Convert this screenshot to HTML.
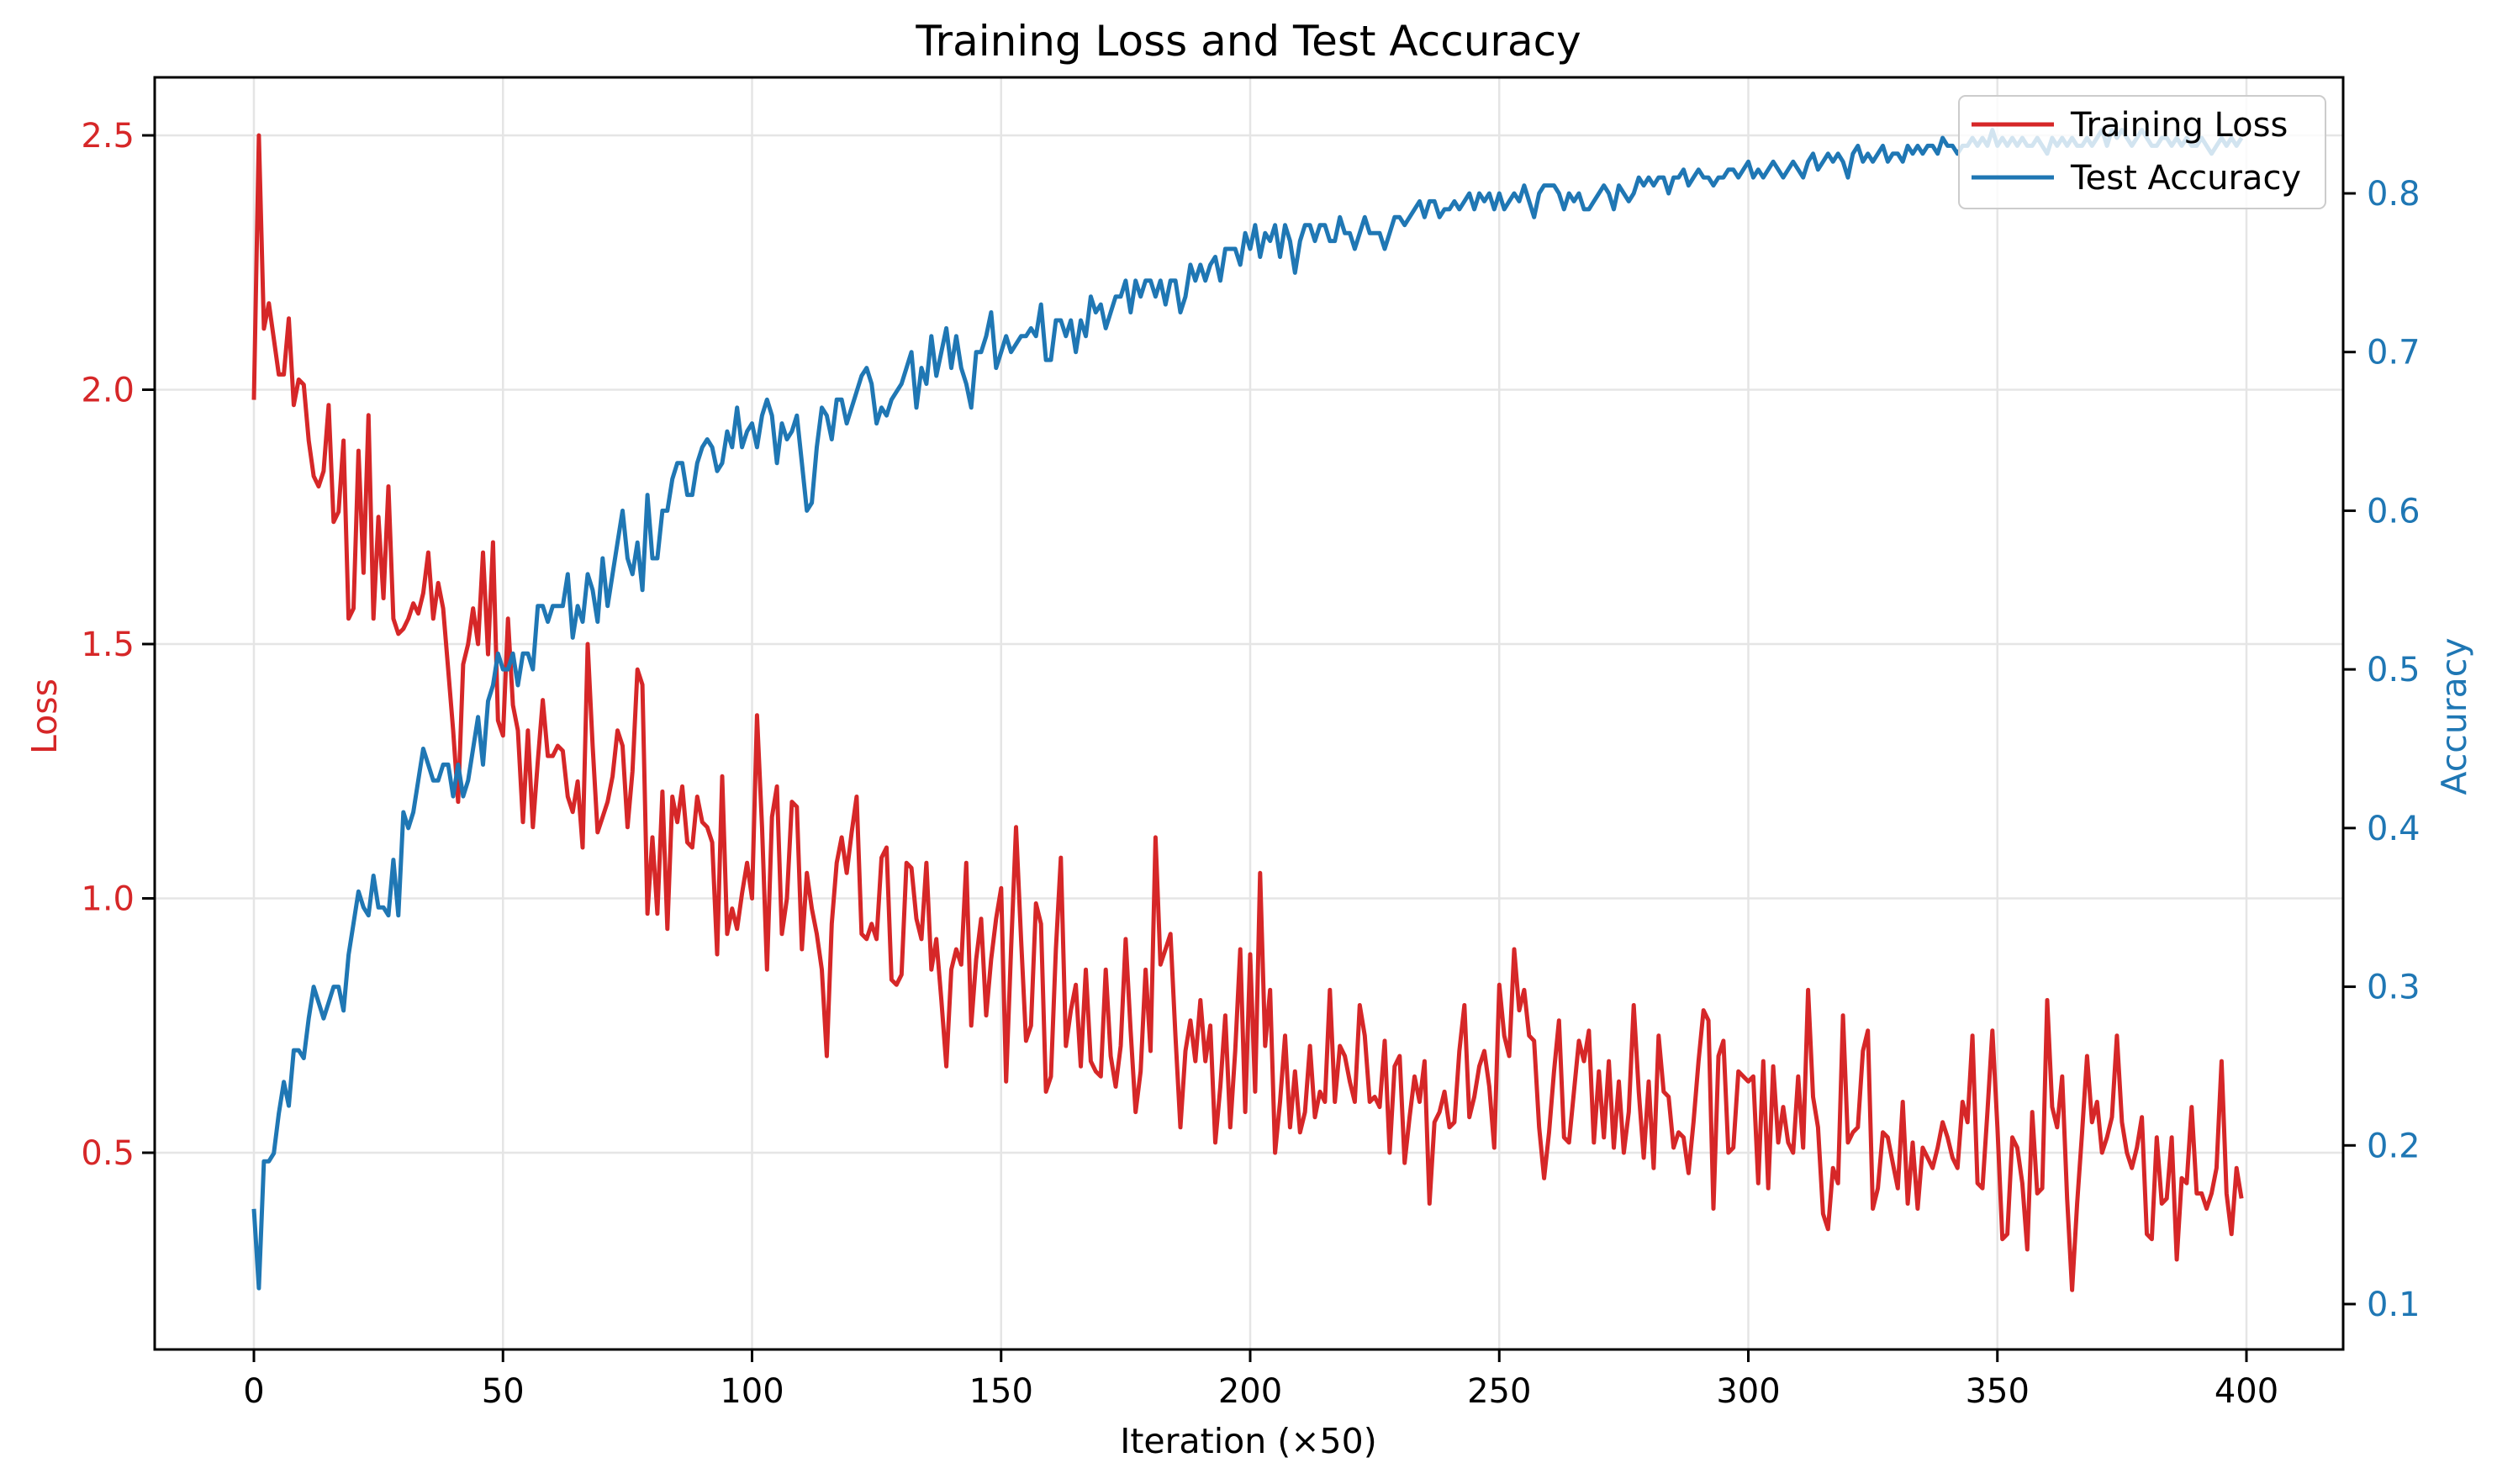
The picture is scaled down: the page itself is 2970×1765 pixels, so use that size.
<!DOCTYPE html>
<html><head><meta charset="utf-8"><style>
html,body{margin:0;padding:0;background:#fff}
svg{display:block;font-family:"DejaVu Sans","Liberation Sans",sans-serif}
</style></head><body>
<svg id="chart" width="2970" height="1765" viewBox="0 0 2970 1765">
<rect x="0" y="0" width="2970" height="1765" fill="#fff"/>
<g id="grid"></g><g id="series"></g><g id="axes"></g>
<text x="1485" y="66" text-anchor="middle" font-size="50" fill="#000">Training Loss and Test Accuracy</text>
<text x="1485" y="1728" text-anchor="middle" font-size="41" fill="#000">Iteration (×50)</text>
<text x="0" y="0" transform="translate(67,852) rotate(-90)" text-anchor="middle" font-size="41" fill="#d62728">Loss</text>
<text x="0" y="0" transform="translate(2933,852) rotate(-90)" text-anchor="middle" font-size="41" fill="#1f77b4">Accuracy</text>
<g>
<rect x="2330" y="114" width="436" height="134" rx="8" fill="#fff" fill-opacity="0.8" stroke="#ccc" stroke-width="2"/>
<line x1="2345" y1="148" x2="2443" y2="148" stroke="#d62728" stroke-width="5"/>
<text x="2463" y="162" font-size="40">Training Loss</text>
<line x1="2345" y1="211" x2="2443" y2="211" stroke="#1f77b4" stroke-width="5"/>
<text x="2463" y="225" font-size="40">Test Accuracy</text>
</g>
</svg>
<script>
const xTicks=[0,50,100,150,200,250,300,350,400];
const lossTicks=[0.5,1.0,1.5,2.0,2.5];
const accTicks=[0.1,0.2,0.3,0.4,0.5,0.6,0.7,0.8];
const lossValues=[1.98,2.50,2.12,2.17,2.10,2.03,2.03,2.14,1.97,2.02,
2.01,1.90,1.83,1.81,1.84,1.97,1.74,1.76,1.90,1.55,
1.57,1.88,1.64,1.95,1.55,1.75,1.59,1.81,1.55,1.52,
1.53,1.55,1.58,1.56,1.60,1.68,1.55,1.62,1.57,1.45,
1.33,1.19,1.46,1.50,1.57,1.50,1.68,1.48,1.70,1.35,
1.32,1.55,1.38,1.33,1.15,1.33,1.14,1.27,1.39,1.28,
1.28,1.30,1.29,1.20,1.17,1.23,1.10,1.50,1.30,1.13,
1.16,1.19,1.24,1.33,1.30,1.14,1.25,1.45,1.42,0.97,
1.12,0.97,1.21,0.94,1.20,1.15,1.22,1.11,1.10,1.20,
1.15,1.14,1.11,0.89,1.24,0.93,0.98,0.94,1.01,1.07,
1.00,1.36,1.14,0.86,1.16,1.22,0.93,1.00,1.19,1.18,
0.90,1.05,0.98,0.93,0.86,0.69,0.95,1.07,1.12,1.05,
1.13,1.20,0.93,0.92,0.95,0.92,1.08,1.10,0.84,0.83,
0.85,1.07,1.06,0.96,0.92,1.07,0.86,0.92,0.80,0.67,
0.86,0.90,0.87,1.07,0.75,0.88,0.96,0.77,0.88,0.96,
1.02,0.64,0.90,1.14,0.92,0.72,0.75,0.99,0.95,0.62,
0.65,0.90,1.08,0.71,0.78,0.83,0.67,0.86,0.68,0.66,
0.65,0.86,0.69,0.63,0.71,0.92,0.74,0.58,0.66,0.86,
0.70,1.12,0.87,0.90,0.93,0.73,0.55,0.70,0.76,0.68,
0.80,0.68,0.75,0.52,0.63,0.77,0.55,0.70,0.90,0.58,
0.89,0.62,1.05,0.71,0.82,0.50,0.60,0.73,0.55,0.66,
0.54,0.58,0.71,0.57,0.62,0.60,0.82,0.60,0.71,0.69,
0.64,0.60,0.79,0.73,0.60,0.61,0.59,0.72,0.50,0.67,
0.69,0.48,0.57,0.65,0.60,0.68,0.40,0.56,0.58,0.62,
0.55,0.56,0.70,0.79,0.57,0.61,0.67,0.70,0.63,0.51,
0.83,0.73,0.69,0.90,0.78,0.82,0.73,0.72,0.55,0.45,
0.54,0.66,0.76,0.53,0.52,0.62,0.72,0.68,0.74,0.52,
0.66,0.53,0.68,0.51,0.64,0.50,0.58,0.79,0.62,0.49,
0.64,0.47,0.73,0.62,0.61,0.51,0.54,0.53,0.46,0.56,
0.68,0.78,0.76,0.39,0.69,0.72,0.50,0.51,0.66,0.65,
0.64,0.65,0.44,0.68,0.43,0.67,0.52,0.59,0.52,0.50,
0.65,0.51,0.82,0.61,0.55,0.38,0.35,0.47,0.44,0.77,
0.52,0.54,0.55,0.70,0.74,0.39,0.43,0.54,0.53,0.48,
0.43,0.60,0.40,0.52,0.39,0.51,0.49,0.47,0.51,0.56,
0.53,0.49,0.47,0.60,0.56,0.73,0.44,0.43,0.58,0.74,
0.55,0.33,0.34,0.53,0.51,0.44,0.31,0.58,0.42,0.43,
0.80,0.59,0.55,0.65,0.41,0.23,0.40,0.54,0.69,0.56,
0.60,0.50,0.53,0.57,0.73,0.56,0.50,0.47,0.51,0.57,
0.34,0.33,0.53,0.40,0.41,0.53,0.29,0.45,0.44,0.59,
0.42,0.42,0.39,0.42,0.47,0.68,0.42,0.34,0.47,0.41];
const accValues=[0.16,0.11,0.19,0.19,0.195,0.22,0.24,0.225,0.26,0.26,
0.255,0.28,0.30,0.29,0.28,0.29,0.30,0.30,0.285,0.32,
0.34,0.36,0.35,0.345,0.37,0.35,0.35,0.345,0.38,0.345,
0.41,0.40,0.41,0.43,0.45,0.44,0.43,0.43,0.44,0.44,
0.42,0.44,0.42,0.43,0.45,0.47,0.44,0.48,0.49,0.51,
0.50,0.50,0.51,0.49,0.51,0.51,0.50,0.54,0.54,0.53,
0.54,0.54,0.54,0.56,0.52,0.54,0.53,0.56,0.55,0.53,
0.57,0.54,0.56,0.58,0.60,0.57,0.56,0.58,0.55,0.61,
0.57,0.57,0.60,0.60,0.62,0.63,0.63,0.61,0.61,0.63,
0.64,0.645,0.64,0.625,0.63,0.65,0.64,0.665,0.64,0.65,
0.655,0.64,0.66,0.67,0.66,0.63,0.655,0.645,0.65,0.66,
0.63,0.60,0.605,0.64,0.665,0.66,0.645,0.67,0.67,0.655,
0.665,0.675,0.685,0.69,0.68,0.655,0.665,0.66,0.67,0.675,
0.68,0.69,0.70,0.665,0.69,0.68,0.71,0.685,0.70,0.715,
0.69,0.71,0.69,0.68,0.665,0.70,0.70,0.71,0.725,0.69,
0.70,0.71,0.70,0.705,0.71,0.71,0.715,0.71,0.73,0.695,
0.695,0.72,0.72,0.71,0.72,0.70,0.72,0.71,0.735,0.725,
0.73,0.715,0.725,0.735,0.735,0.745,0.725,0.745,0.735,0.745,
0.745,0.735,0.745,0.73,0.745,0.745,0.725,0.735,0.755,0.745,
0.755,0.745,0.755,0.76,0.745,0.765,0.765,0.765,0.755,0.775,
0.765,0.78,0.76,0.775,0.77,0.78,0.76,0.78,0.77,0.75,
0.77,0.78,0.78,0.77,0.78,0.78,0.77,0.77,0.785,0.775,
0.775,0.765,0.775,0.785,0.775,0.775,0.775,0.765,0.775,0.785,
0.785,0.78,0.785,0.79,0.795,0.785,0.795,0.795,0.785,0.79,
0.79,0.795,0.79,0.795,0.80,0.79,0.80,0.795,0.80,0.79,
0.80,0.79,0.795,0.80,0.795,0.805,0.795,0.785,0.80,0.805,
0.805,0.805,0.80,0.79,0.80,0.795,0.80,0.79,0.79,0.795,
0.80,0.805,0.80,0.79,0.805,0.80,0.795,0.80,0.81,0.805,
0.81,0.805,0.81,0.81,0.80,0.81,0.81,0.815,0.805,0.81,
0.815,0.81,0.81,0.805,0.81,0.81,0.815,0.815,0.81,0.815,
0.82,0.81,0.815,0.81,0.815,0.82,0.815,0.81,0.815,0.82,
0.815,0.81,0.82,0.825,0.815,0.82,0.825,0.82,0.825,0.82,
0.81,0.825,0.83,0.82,0.825,0.82,0.825,0.83,0.82,0.825,
0.825,0.82,0.83,0.825,0.83,0.825,0.83,0.83,0.825,0.835,
0.83,0.83,0.825,0.83,0.83,0.835,0.83,0.835,0.83,0.84,
0.83,0.835,0.83,0.835,0.83,0.835,0.83,0.83,0.835,0.83,
0.825,0.835,0.83,0.835,0.83,0.835,0.83,0.83,0.835,0.83,
0.835,0.84,0.83,0.84,0.835,0.84,0.835,0.83,0.835,0.84,
0.835,0.83,0.83,0.835,0.835,0.83,0.835,0.83,0.835,0.83,
0.83,0.835,0.83,0.825,0.83,0.835,0.83,0.835,0.83,0.835];

const L=184,R=2787,T=92,B=1605;
const xs=v=>302+(v-0)*(2672-302)/400;
const yl=v=>161+(2.5-v)*(1371-161)/2.0;
const ya=v=>1551-(v-0.1)*(1551-230)/0.7;
const NS='http://www.w3.org/2000/svg';
function mk(tag,attrs,parent){const e=document.createElementNS(NS,tag);for(const k in attrs)e.setAttribute(k,attrs[k]);parent.appendChild(e);return e;}
const grid=document.getElementById('grid'),axes=document.getElementById('axes'),series=document.getElementById('series');

xTicks.forEach(t=>{
  const g=mk('line',{x1:xs(t),x2:xs(t),y1:T,y2:B,stroke:'#e5e5e5','stroke-width':2.5},grid);
  
  
  const tk=mk('line',{x1:xs(t),x2:xs(t),y1:B,y2:B+15,stroke:'#000','stroke-width':3},axes);
  
  
  const tx=mk('text',{x:xs(t),y:B+63,'text-anchor':'middle','font-size':40,fill:'#000'},axes);
  tx.textContent=t;
  
  
});
lossTicks.forEach(t=>{
  const g=mk('line',{x1:L,x2:R,y1:yl(t),y2:yl(t),stroke:'#e5e5e5','stroke-width':2.5},grid);
  
  
  const tk=mk('line',{x1:L-15,x2:L,y1:yl(t),y2:yl(t),stroke:'#000','stroke-width':3},axes);
  
  
  const tx=mk('text',{x:L-24,y:yl(t)+14,'text-anchor':'end','font-size':40,fill:'#d62728'},axes);
  tx.textContent=t.toFixed(1);
  
  
});
accTicks.forEach(t=>{
  const tk=mk('line',{x1:R,x2:R+15,y1:ya(t),y2:ya(t),stroke:'#000','stroke-width':3},axes);
  
  
  const tx=mk('text',{x:R+28,y:ya(t)+14,'text-anchor':'start','font-size':40,fill:'#1f77b4'},axes);
  tx.textContent=t.toFixed(1);
  
  
});
const fr=mk('rect',{x:L,y:T,width:R-L,height:B-T,fill:'none',stroke:'#000','stroke-width':3},axes);



const lossPath=mk('path',{d:lossValues.map((v,i)=>(i?'L':'M')+xs(i).toFixed(1)+','+yl(v).toFixed(1)).join(''),fill:'none',stroke:'#d62728','stroke-width':5,'stroke-linejoin':'round'},series);


const accPath=mk('path',{d:accValues.map((v,i)=>(i?'L':'M')+xs(i).toFixed(1)+','+ya(v).toFixed(1)).join(''),fill:'none',stroke:'#1f77b4','stroke-width':5,'stroke-linejoin':'round'},series);


</script>
</body></html>
